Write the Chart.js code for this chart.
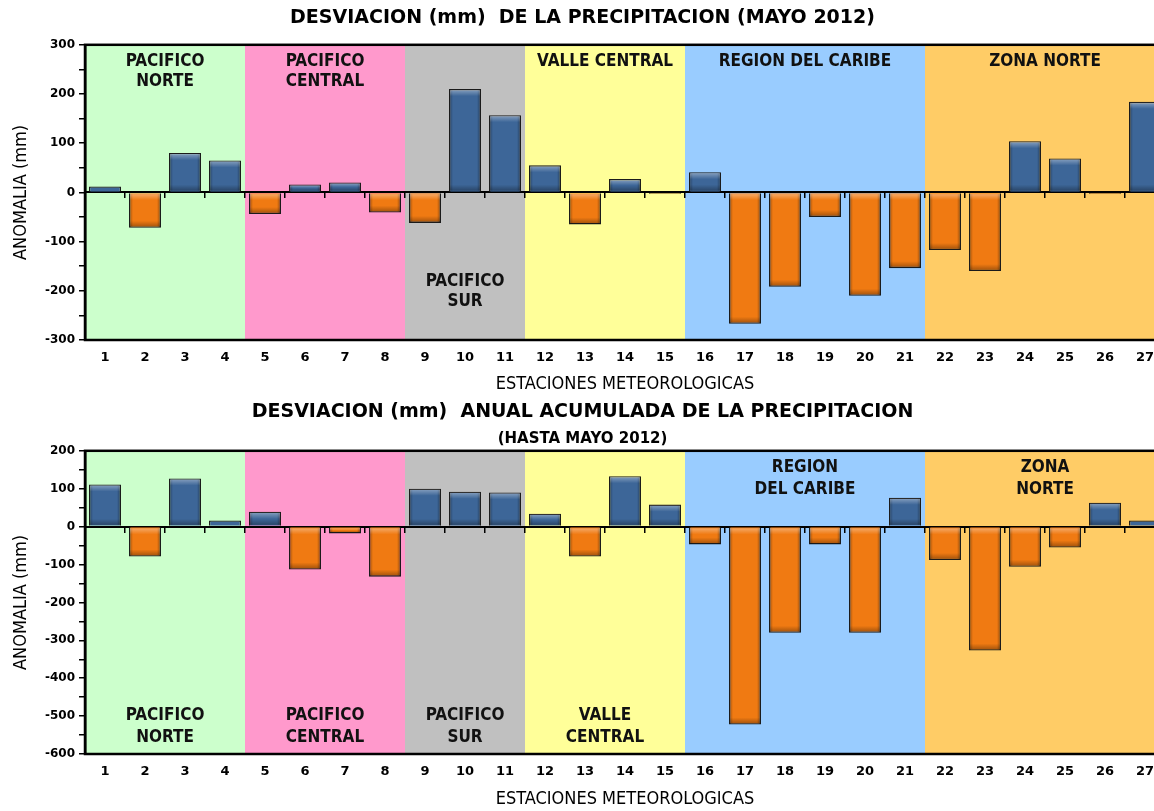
<!DOCTYPE html>
<html>
<head>
<meta charset="utf-8">
<script src="https://cdn.jsdelivr.net/npm/chart.js@4.4.1/dist/chart.umd.min.js"></script>
<style>
  html, body { margin: 0; padding: 0; background: #fff; overflow: hidden; }
  .box { position: absolute; left: 0; width: 1170px; }
  #box1 { top: 0; height: 396px; }
  #box2 { top: 396px; height: 415px; }
</style>
</head>
<body>
<div class="box" id="box1"><canvas id="mayChart"></canvas></div>
<div class="box" id="box2"><canvas id="annualChart"></canvas></div>
<script>
// estaciones 1..27
const stations = ['1','2','3','4','5','6','7','8','9','10','11','12','13','14','15','16','17','18','19','20','21','22','23','24','25','26','27'];

// anomalia de mayo 2012 (mm)
const mayAnomaly = [12, -72, 80, 65, -44, 16, 20, -41, -62, 210, 157, 55, -65, 27, -3, 41, -267, -192, -50, -210, -154, -117, -160, 104, 69, -3, 184];

// anomalia anual acumulada hasta mayo 2012 (mm)
const annualAnomaly = [111, -79, 127, 16, 39, -113, -18, -132, 100, 92, 90, 34, -79, 133, 58, -47, -522, -280, -47, -280, 76, -88, -327, -106, -55, 63, 16];

const mayTickLabels = [300, 200, 100, 0, -100, -200, -300];
const annualTickLabels = [200, 100, 0, -100, -200, -300, -400, -500, -600];

// regiones climaticas: primera y ultima estacion
const regionFirst = [1, 5, 9, 12, 16, 22];
const regionLast = [4, 8, 11, 15, 21, 27];
const mayRegionNames = [['PACIFICO', 'NORTE'], ['PACIFICO', 'CENTRAL'], ['PACIFICO', 'SUR'], ['VALLE CENTRAL'], ['REGION DEL CARIBE'], ['ZONA NORTE']];
const annualRegionNames = [['PACIFICO', 'NORTE'], ['PACIFICO', 'CENTRAL'], ['PACIFICO', 'SUR'], ['VALLE', 'CENTRAL'], ['REGION', 'DEL CARIBE'], ['ZONA', 'NORTE']];

const regionColors = ['#CCFFCC', '#FF99CC', '#C0C0C0', '#FFFF99', '#99CCFF', '#FFCC66'];
const FONT = '"DejaVu Sans Condensed", "DejaVu Sans", sans-serif';
const WIDE = '"DejaVu Sans", sans-serif';

const regionPlugin = {
  id: 'regions',
  beforeDraw(chart, args, opts) {
    const {ctx, chartArea: a, scales: {x}} = chart;
    const half = (x.getPixelForValue(1) - x.getPixelForValue(0)) / 2;
    ctx.save();
    ctx.beginPath();
    ctx.rect(a.left, a.top, a.right - a.left, a.bottom - a.top);
    ctx.clip();
    regionFirst.forEach((first, i) => {
      const x0 = x.getPixelForValue(first - 1) - half;
      const x1 = x.getPixelForValue(regionLast[i] - 1) + half;
      ctx.fillStyle = regionColors[i];
      ctx.fillRect(x0, a.top, x1 - x0, a.bottom - a.top);
    });
    ctx.restore();
  },
  afterDatasetsDraw(chart, args, opts) {
    const {ctx, chartArea: a, scales: {x}} = chart;
    // relieve de las barras
    ctx.save();
    chart.getDatasetMeta(0).data.forEach(bar => {
      const p = bar.getProps(['x', 'y', 'base', 'width'], true);
      const left = p.x - p.width / 2 + 1, w = p.width - 2;
      const top = Math.min(p.y, p.base) + 1, h = Math.abs(p.base - p.y) - 2;
      if (h < 4) return;
      const gx = ctx.createLinearGradient(left, 0, left + w, 0);
      gx.addColorStop(0, 'rgba(0,0,0,0.28)');
      gx.addColorStop(0.1, 'rgba(0,0,0,0)');
      gx.addColorStop(0.9, 'rgba(0,0,0,0)');
      gx.addColorStop(1, 'rgba(0,0,0,0.32)');
      ctx.fillStyle = gx;
      ctx.fillRect(left, top, w, h);
      const gy = ctx.createLinearGradient(0, top, 0, top + h);
      const k = Math.min(0.5, 6 / h);
      gy.addColorStop(0, 'rgba(255,255,255,0.35)');
      gy.addColorStop(k, 'rgba(255,255,255,0)');
      gy.addColorStop(1 - k, 'rgba(0,0,0,0)');
      gy.addColorStop(1, 'rgba(0,0,0,0.3)');
      ctx.fillStyle = gy;
      ctx.fillRect(left, top, w, h);
    });
    ctx.restore();

    const half = (x.getPixelForValue(1) - x.getPixelForValue(0)) / 2;
    ctx.save();
    ctx.font = 'bold 17px ' + FONT;
    ctx.fillStyle = '#111';
    ctx.textAlign = 'center';
    ctx.textBaseline = 'middle';
    opts.names.forEach((lines, i) => {
      const cx = (x.getPixelForValue(regionFirst[i] - 1) - half + x.getPixelForValue(regionLast[i] - 1) + half) / 2;
      const atBottom = opts.bottom[i];
      lines.forEach((t, j) => {
        const y = atBottom
          ? a.bottom - opts.bottomGap - (lines.length - 1 - j) * opts.lineGap
          : a.top + opts.topGap + j * opts.lineGap;
        ctx.fillText(t, cx, y);
      });
    });
    ctx.restore();
  },
  afterDraw(chart) {
    const {ctx, chartArea: a} = chart;
    ctx.save();
    ctx.strokeStyle = '#000';
    ctx.lineWidth = 2.5;
    ctx.strokeRect(a.left, a.top, a.right - a.left, a.bottom - a.top);
    ctx.restore();
  }
};

function barColor(c) {
  return c.raw >= 0 ? '#3D6698' : '#F07A12';
}

function makeChart(id, values, tickLabels, titles, regionOpts, xHeight) {
  const plugins = {
    legend: { display: false },
    tooltip: { enabled: false },
    title: {
      display: true,
      text: titles.title,
      color: '#000',
      font: { family: WIDE, size: 19, weight: 'bold' },
      padding: titles.titlePad
    },
    regions: regionOpts
  };
  if (titles.subtitle) {
    plugins.subtitle = {
      display: true,
      text: titles.subtitle,
      color: '#000',
      font: { family: WIDE, size: 15, weight: 'bold' },
      padding: titles.subPad
    };
  }
  return new Chart(document.getElementById(id), {
    type: 'bar',
    data: {
      labels: stations,
      datasets: [{
        data: values,
        backgroundColor: barColor,
        borderColor: '#1b1b1b',
        borderWidth: 1.3,
        barPercentage: 0.8,
        categoryPercentage: 1
      }]
    },
    plugins: [regionPlugin],
    options: {
      responsive: true,
      maintainAspectRatio: false,
      animation: false,
      layout: { padding: { left: 0, right: 5, top: 0, bottom: 0 } },
      plugins: plugins,
      scales: {
        x: {
          offset: true,
          grid: { display: false, drawTicks: false },
          border: { display: false },
          ticks: {
            color: '#000',
            font: { family: WIDE, size: 13, weight: 'bold' },
            padding: 10,
            maxRotation: 0,
            autoSkip: false
          },
          title: {
            display: true,
            text: 'ESTACIONES METEOROLOGICAS',
            color: '#000',
            font: { family: FONT, size: 18 },
            padding: { top: 0, bottom: 1 }
          },
          afterFit: s => { s.height = xHeight; }
        },
        x0: {
          axis: 'x',
          type: 'category',
          position: { y: 0 },
          offset: true,
          z: 1,
          grid: { display: true, drawOnChartArea: false, drawTicks: true, tickLength: 5, offset: true, color: '#000', lineWidth: 1.5 },
          border: { display: true, color: '#000', width: 2 },
          ticks: { display: false }
        },
        y: {
          min: tickLabels[tickLabels.length - 1],
          max: tickLabels[0],
          grid: { display: true, drawOnChartArea: false, drawTicks: true, tickLength: 6, color: '#000', lineWidth: 1.5 },
          border: { display: true, color: '#000', width: 2.5 },
          ticks: {
            stepSize: 50,
            color: '#000',
            font: { family: WIDE, size: 12, weight: 'bold' },
            padding: 4,
            callback: v => tickLabels.includes(v) ? v : ''
          },
          title: {
            display: true,
            text: 'ANOMALIA (mm)',
            color: '#000',
            font: { family: FONT, size: 18 },
            padding: { top: 11, bottom: 0 }
          },
          afterFit: s => { s.width = 85; }
        }
      }
    }
  });
}

makeChart('mayChart', mayAnomaly, mayTickLabels,
  { title: 'DESVIACION (mm)  DE LA PRECIPITACION (MAYO 2012)', titlePad: { top: 7, bottom: 15 } },
  { names: mayRegionNames, bottom: [false, false, true, false, false, false], topGap: 17, bottomGap: 38, lineGap: 20 },
  56);

makeChart('annualChart', annualAnomaly, annualTickLabels,
  { title: 'DESVIACION (mm)  ANUAL ACUMULADA DE LA PRECIPITACION', titlePad: { top: 5, bottom: 4 },
    subtitle: '(HASTA MAYO 2012)', subPad: { top: 2, bottom: 3 } },
  { names: annualRegionNames, bottom: [true, true, true, true, false, false], topGap: 17, bottomGap: 16, lineGap: 22 },
  57);
</script>
</body>
</html>
